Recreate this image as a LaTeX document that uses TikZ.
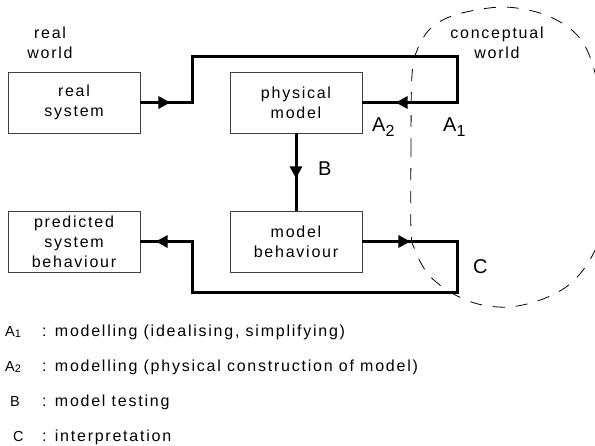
\documentclass[tikz,border=0pt]{standalone}
\usepackage{fontspec}
\setmainfont{Liberation Sans}[LetterSpace=11]
\usetikzlibrary{arrows.meta,decorations.markings}
\newcommand{\lowsub}[3]{\raisebox{-#1}{\fontsize{#2}{#2}\selectfont #3}}
\begin{document}
\begin{tikzpicture}[x=1pt,y=-1pt,
  box/.style={draw=black!75, line width=0.8pt, minimum width=132pt, minimum height=61pt,
    inner sep=0pt, align=center, font=\fontsize{16}{20}\selectfont},
  flow/.style={line width=3pt, line join=miter},
  lab/.style={font=\fontsize{16}{20}\selectfont, align=center, inner sep=0pt},
  big/.style={font=\fontsize{20}{24}\selectfont, inner sep=0pt, anchor=base west},
  legkey/.style={font=\fontsize{14.5}{16}\selectfont, inner sep=0pt, anchor=base west},
  legtxt/.style={font=\fontsize{16}{20}\selectfont, inner sep=0pt, anchor=base west},
  cloud/.style={dash pattern=on 12pt off 11pt, line width=0.8pt}
]
\useasboundingbox (0,0) rectangle (595,445);
\clip (0,0) rectangle (595,445);

% boxes
\node[box] (rs)  at (74,102.5)  {real\\system};
\node[box] (pm)  at (296,102.5) {physical\\model};
\node[box] (psb) at (74,241.5)  {predicted\\system\\behaviour};
\node[box] (mb)  at (296,241.5) {model\\behaviour};

% world labels
\node[lab] (rw) at (50,43) {real\\world};
\node[lab] (cw) at (497,43) {conceptual\\world};

% conceptual world outline
\draw[cloud] plot[smooth cycle, tension=0.55] coordinates {
  (411,230) (411,150) (412,75) (418,48) (432,27) (458,14) (502,7) (540,13)
  (568,27) (585,46) (597,80) (612,150) (606,218) (591,258) (570,284)
  (543,299) (510,307) (478,304) (450,292) (428,274) (415,250)};

% corner points
\coordinate (c1) at (192,56);
\coordinate (c2) at (457,56);
\coordinate (c3) at (457,292);
\coordinate (c4) at (192,292);

% A1 / A2 loop
\draw[flow, postaction={decorate}, decoration={markings,
    mark=at position 30pt with {\arrow{Triangle[length=12pt,width=12pt]}},
    mark=at position 471pt with {\arrow{Triangle[length=12pt,width=12pt]}}}]
  (rs.east) -| (c1) -- (c2) |- (pm.east);

% B
\draw[flow, postaction={decorate}, decoration={markings,
    mark=at position 45pt with {\arrow{Triangle[length=12pt,width=12pt]}}}]
  (pm.south) -- (mb.north);

% C loop
\draw[flow, postaction={decorate}, decoration={markings,
    mark=at position 48pt with {\arrow{Triangle[length=12pt,width=12pt]}},
    mark=at position 497pt with {\arrow{Triangle[length=12pt,width=12pt]}}}]
  (mb.east) -| (c3) -- (c4) |- (psb.east);

% connector labels
\node[big] (la2) at (372,131) {A\lowsub{5pt}{16}{2}};
\node[big] (la1) at (443,131) {A\lowsub{5pt}{16}{1}};
\node[big] (lb)  at (318,175) {B};
\node[big] (lc)  at (473,273) {C};

% legend
\node[legkey] (k1) at (5,336) {A\lowsub{1pt}{11}{1}};
\node[legtxt] (t1) at (42,336) {: modelling (idealising, simplifying)};
\node[legkey] (k2) at (5,371) {A\lowsub{1pt}{11}{2}};
\node[legtxt] (t2) at (42,371) {: modelling (physical construction of model)};
\node[legkey] (k3) at (10,406) {B};
\node[legtxt] (t3) at (42,406) {: model testing};
\node[legkey] (k4) at (13,441) {C};
\node[legtxt] (t4) at (42,441) {: interpretation};
\end{tikzpicture}
\end{document}
